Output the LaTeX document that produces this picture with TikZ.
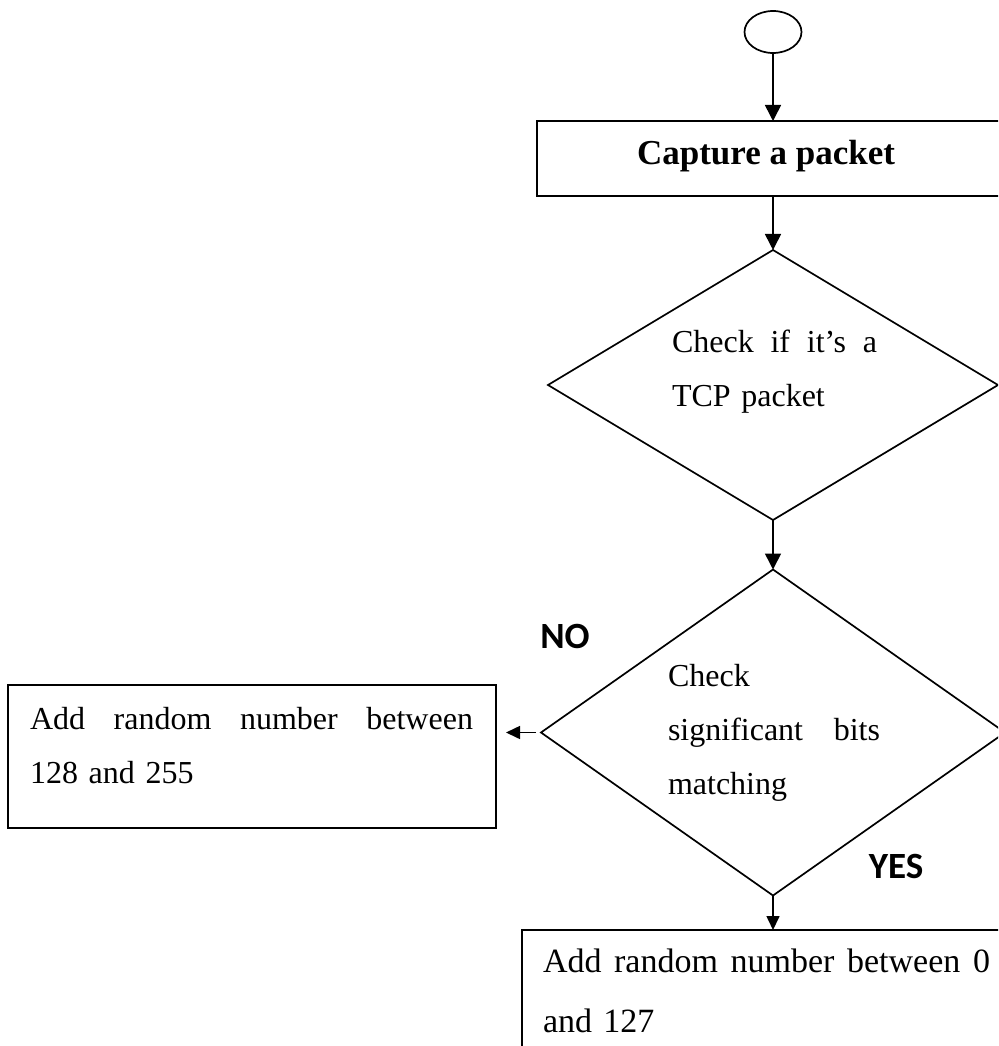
\documentclass[tikz,border=0pt]{standalone}
\usepackage{fontspec}
\setmainfont{Liberation Serif}
\newfontfamily\tagfont{Carlito}
\usetikzlibrary{shapes.geometric,arrows.meta,calc}

\begin{document}
\begin{tikzpicture}[x=1pt,y=-1pt,
  every node/.style={inner sep=0pt, outer sep=0pt},
  shapeline/.style={draw=black, line width=1.7pt},
  flow/.style={line width=1.6pt, -{Triangle[length=16pt,width=16pt]}},
  shortflow/.style={line width=1.6pt, -{Triangle[length=14pt,width=13pt]}},
  body/.style={font=\fontsize{32}{54}\selectfont, align=left, anchor=base west},
  tag/.style={font=\tagfont\bfseries\fontsize{37}{40}\selectfont},
]
\useasboundingbox (0,0) rectangle (998,1046);
\fill[white] (0,0) rectangle (998,1046);
\begin{scope}
\clip (0,0) rectangle (998,1046);

% shapes of the flow chart
\node[shapeline, ellipse, minimum width=57, minimum height=42] (start) at (773,32) {};
\node[shapeline, rectangle, minimum width=472, minimum height=75] (capture) at (773,158.5) {};
\node[shapeline, diamond, minimum width=450, minimum height=270] (tcp) at (773,385) {};
\node[shapeline, diamond, minimum width=464, minimum height=326] (check) at (773,732.5) {};
\node[shapeline, rectangle, minimum width=488, minimum height=143] (addhigh) at (252,756.5) {};
\node[shapeline, rectangle, minimum width=502, minimum height=160] (addlow) at (773,1010) {};

% texts
\node[font=\bfseries\fontsize{35}{40}\selectfont, anchor=base] (capturetxt) at (766,164) {Capture a packet};
\node[body, text width=205] (tcptxt) at (672,352) {Check\hfill if\hfill it’s\hfill a\\TCP packet};
\node[body, text width=212] (checktxt) at (668,686) {Check\\significant\hfill bits\\matching};
\node[body, text width=443] (addhightxt) at (30,729) {Add\hfill random\hfill number\hfill between\\128 and 255};
\node[body, font=\fontsize{34}{60}\selectfont, text width=447] (addlowtxt) at (543,972) {Add\hfill random\hfill number\hfill between\hfill 0\\and 127};

% branch labels
\node[tag] (no) at (565,636) {NO};
\node[tag] (yes) at (896,866) {YES};

% connectors
\draw[flow] (start) -- (capture);
\draw[flow] (capture) -- (tcp);
\draw[flow] (tcp) -- (check);
\coordinate (notip) at ($(check.west -| addhigh.east)+(10,0)$);
\draw[shortflow, shorten <=5pt] (check.west) -- (notip);
\draw[shortflow] (check) -- (addlow);
\end{scope}
\end{tikzpicture}
\end{document}
